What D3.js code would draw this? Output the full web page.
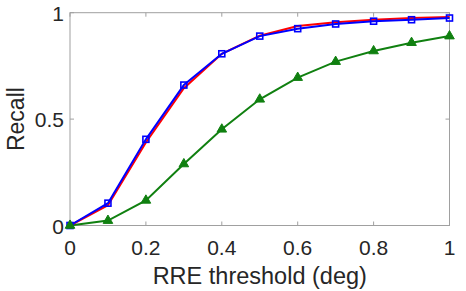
<!DOCTYPE html>
<html>
<head>
<meta charset="utf-8">
<script src="https://cdn.jsdelivr.net/npm/d3@7"></script>
<style>
body { margin: 0; background: #fff; }
text { font-family: "Liberation Sans", Arial, sans-serif; fill: #262626; }
</style>
</head>
<body>
<div id="chart"></div>
<script>
const thresholds = [0, 0.1, 0.2, 0.3, 0.4, 0.5, 0.6, 0.7, 0.8, 0.9, 1.0];
const redRecall = [0, 0.095, 0.39, 0.645, 0.807, 0.892, 0.937, 0.955, 0.967, 0.975, 0.98];
const blueRecall = [0, 0.105, 0.405, 0.66, 0.807, 0.89, 0.925, 0.947, 0.96, 0.967, 0.975];
const greenRecall = [0, 0.023, 0.118, 0.289, 0.452, 0.593, 0.695, 0.77, 0.82, 0.859, 0.89];
const xTicks = [0, 0.2, 0.4, 0.6, 0.8, 1];
const yTicks = [0, 0.5, 1];

const width = 466, height = 291;
const margin = {top: 12.7, right: 16.5, bottom: 65.5, left: 70};

const svg = d3.select("#chart").append("svg")
	.attr("width", width)
	.attr("height", height);

const x = d3.scaleLinear().domain([0, 1]).range([margin.left, width - margin.right]);
const y = d3.scaleLinear().domain([0, 1]).range([height - margin.bottom, margin.top]);

// box
const axisColor = "#a0a0a0";
svg.append("rect")
	.attr("x", x(0)).attr("y", y(1))
	.attr("width", x(1) - x(0)).attr("height", y(0) - y(1))
	.attr("fill", "none").attr("stroke", axisColor).attr("stroke-width", 1);

// ticks (inward, both sides)
xTicks.forEach(function(t) {
	svg.append("line").attr("x1", x(t)).attr("x2", x(t)).attr("y1", y(0)).attr("y2", y(0) - 4).attr("stroke", axisColor);
	svg.append("line").attr("x1", x(t)).attr("x2", x(t)).attr("y1", y(1)).attr("y2", y(1) + 4).attr("stroke", axisColor);
	svg.append("text").attr("x", x(t)).attr("y", y(0) + 29)
		.attr("text-anchor", "middle").attr("font-size", 21).text(t);
});
yTicks.forEach(function(t) {
	svg.append("line").attr("x1", x(0)).attr("x2", x(0) + 4).attr("y1", y(t)).attr("y2", y(t)).attr("stroke", axisColor);
	svg.append("line").attr("x1", x(1)).attr("x2", x(1) - 4).attr("y1", y(t)).attr("y2", y(t)).attr("stroke", axisColor);
	svg.append("text").attr("x", x(0) - 6).attr("y", y(t) + 8)
		.attr("text-anchor", "end").attr("font-size", 21).text(t);
});

svg.append("text")
	.attr("x", x(0.5)).attr("y", 284)
	.attr("text-anchor", "middle").attr("font-size", 23.5)
	.text("RRE threshold (deg)");

svg.append("text")
	.attr("transform", "translate(23.5," + y(0.5) + ") rotate(-90)")
	.attr("text-anchor", "middle").attr("font-size", 23)
	.text("Recall");

const line = d3.line().x(d => x(d[0])).y(d => y(d[1]));

function series(vals, color) {
	const pts = thresholds.map((t, i) => [t, vals[i]]);
	svg.append("path").datum(pts)
		.attr("d", line)
		.attr("fill", "none")
		.attr("stroke", color)
		.attr("stroke-width", 2);
	return pts;
}

const gPts = series(greenRecall, "#108010");
const rPts = series(redRecall, "#ff0000");
const bPts = series(blueRecall, "#0000ff");

// blue squares
svg.selectAll(".sq").data(bPts).enter().append("rect")
	.attr("x", d => x(d[0]) - 3).attr("y", d => y(d[1]) - 3)
	.attr("width", 6).attr("height", 6)
	.attr("fill", "none").attr("stroke", "#0000ff").attr("stroke-width", 1.6);

// green triangles
const tri = d3.symbol().type(d3.symbolTriangle).size(40);
svg.selectAll(".tri").data(gPts).enter().append("path")
	.attr("d", tri)
	.attr("transform", d => "translate(" + x(d[0]) + "," + y(d[1]) + ")")
	.attr("fill", "#108010").attr("stroke", "#108010").attr("stroke-width", 1);
</script>
</body>
</html>
